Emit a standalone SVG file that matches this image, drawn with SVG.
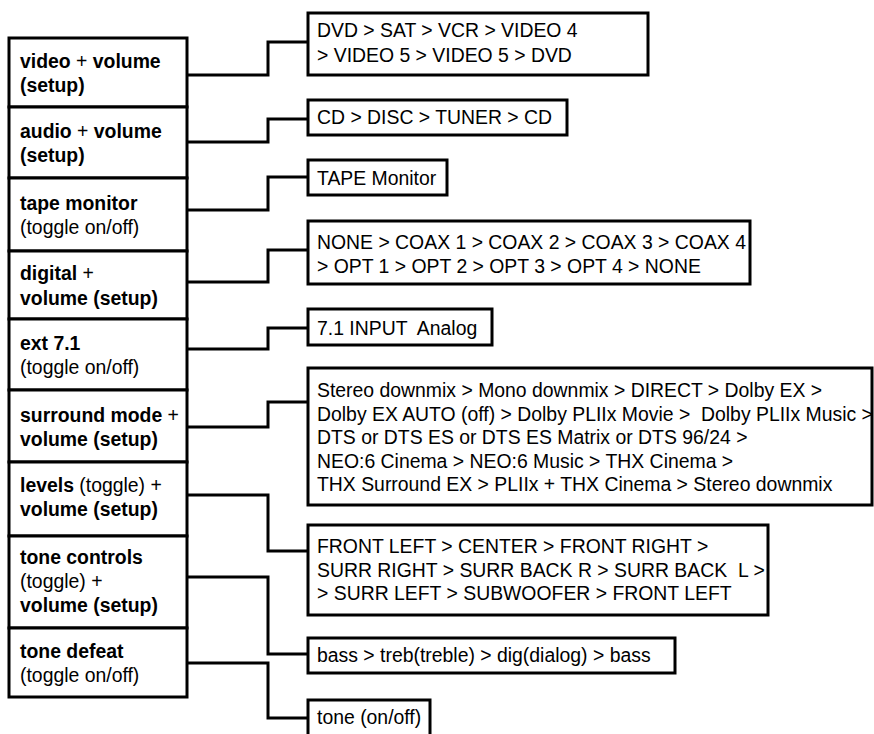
<svg xmlns="http://www.w3.org/2000/svg" width="874" height="734" viewBox="0 0 874 734">
<style>
.box{fill:#fff;stroke:#000;stroke-width:3}
.conn{fill:none;stroke:#000;stroke-width:3;stroke-linejoin:miter}
text{font-family:"Liberation Sans",Arial,sans-serif;font-size:19.4px;fill:#000;white-space:pre}
.b{font-weight:bold}
.r{font-weight:normal}
</style>
<rect width="874" height="734" fill="#fff"/>
<g id="connectors">
<path class="conn" d="M187,75 H268 V42 H308"/>
<path class="conn" d="M187,142 H268 V119 H308"/>
<path class="conn" d="M187,210 H268 V177 H308"/>
<path class="conn" d="M187,282 H268 V250 H308"/>
<path class="conn" d="M187,349 H268 V328 H308"/>
<path class="conn" d="M187,427 H268 V402 H308"/>
<path class="conn" d="M187,495 H268 V551 H308"/>
<path class="conn" d="M187,577 H268 V654 H308"/>
<path class="conn" d="M187,663 H268 V718 H308"/>
</g>
<g id="video">
<rect class="box" x="9" y="38" width="178" height="69"/>
<text x="20" y="68"><tspan class="b">video</tspan> + <tspan class="b">volume</tspan></text>
<text x="20" y="92" class="b">(setup)</text>
</g>
<g id="audio">
<rect class="box" x="9" y="107" width="178" height="71"/>
<text x="20" y="138"><tspan class="b">audio</tspan> + <tspan class="b">volume</tspan></text>
<text x="20" y="162" class="b">(setup)</text>
</g>
<g id="tape">
<rect class="box" x="9" y="178" width="178" height="73"/>
<text x="20" y="210" class="b">tape monitor</text>
<text x="20" y="234">(toggle on/off)</text>
</g>
<g id="digital">
<rect class="box" x="9" y="251" width="178" height="68"/>
<text x="20" y="280"><tspan class="b">digital</tspan> +</text>
<text x="20" y="305" class="b">volume (setup)</text>
</g>
<g id="ext">
<rect class="box" x="9" y="319" width="178" height="71"/>
<text x="20" y="350" class="b">ext 7.1</text>
<text x="20" y="374">(toggle on/off)</text>
</g>
<g id="surround">
<rect class="box" x="9" y="390" width="178" height="72"/>
<text x="20" y="422"><tspan class="b">surround mode</tspan> +</text>
<text x="20" y="446" class="b">volume (setup)</text>
</g>
<g id="levels">
<rect class="box" x="9" y="462" width="178" height="74"/>
<text x="20" y="492"><tspan class="b">levels</tspan> (toggle) +</text>
<text x="20" y="516" class="b">volume (setup)</text>
</g>
<g id="tonecontrols">
<rect class="box" x="9" y="536" width="178" height="92"/>
<text x="20" y="564" class="b">tone controls</text>
<text x="20" y="588">(toggle) +</text>
<text x="20" y="612" class="b">volume (setup)</text>
</g>
<g id="tonedefeat">
<rect class="box" x="9" y="628" width="178" height="69"/>
<text x="20" y="658" class="b">tone defeat</text>
<text x="20" y="682">(toggle on/off)</text>
</g>
<g id="r-video">
<rect class="box" x="308" y="13" width="340" height="62"/>
<text x="317" y="37">DVD &gt; SAT &gt; VCR &gt; VIDEO 4</text>
<text x="317" y="62">&gt; VIDEO 5 &gt; VIDEO 5 &gt; DVD</text>
</g>
<g id="r-audio">
<rect class="box" x="308" y="100" width="259" height="35"/>
<text x="317" y="124">CD &gt; DISC &gt; TUNER &gt; CD</text>
</g>
<g id="r-tape">
<rect class="box" x="308" y="160" width="139" height="35"/>
<text x="317" y="185">TAPE Monitor</text>
</g>
<g id="r-digital">
<rect class="box" x="308" y="221" width="442" height="63"/>
<text x="317" y="249">NONE &gt; COAX 1 &gt; COAX 2 &gt; COAX 3 &gt; COAX 4</text>
<text x="317" y="273">&gt; OPT 1 &gt; OPT 2 &gt; OPT 3 &gt; OPT 4 &gt; NONE</text>
</g>
<g id="r-ext">
<rect class="box" x="308" y="309" width="184" height="36"/>
<text x="317" y="335">7.1 INPUT  Analog</text>
</g>
<g id="r-surround">
<rect class="box" x="308" y="368" width="564" height="137"/>
<text x="317" y="397">Stereo downmix &gt; Mono downmix &gt; DIRECT &gt; Dolby EX &gt;</text>
<text x="317" y="420.5">Dolby EX AUTO (off) &gt; Dolby PLIIx Movie &gt;  Dolby PLIIx Music &gt;</text>
<text x="317" y="444">DTS or DTS ES or DTS ES Matrix or DTS 96/24 &gt;</text>
<text x="317" y="467.5">NEO:6 Cinema &gt; NEO:6 Music &gt; THX Cinema &gt;</text>
<text x="317" y="491">THX Surround EX &gt; PLIIx + THX Cinema &gt; Stereo downmix</text>
</g>
<g id="r-levels">
<rect class="box" x="308" y="525" width="460" height="90"/>
<text x="317" y="553">FRONT LEFT &gt; CENTER &gt; FRONT RIGHT &gt;</text>
<text x="317" y="576.5">SURR RIGHT &gt; SURR BACK R &gt; SURR BACK  L &gt;</text>
<text x="317" y="600">&gt; SURR LEFT &gt; SUBWOOFER &gt; FRONT LEFT</text>
</g>
<g id="r-tonecontrols">
<rect class="box" x="308" y="638" width="367" height="35"/>
<text x="317" y="662">bass &gt; treb(treble) &gt; dig(dialog) &gt; bass</text>
</g>
<g id="r-tonedefeat">
<rect class="box" x="308" y="700" width="122" height="40"/>
<text x="317" y="724">tone (on/off)</text>
</g>
</svg>
